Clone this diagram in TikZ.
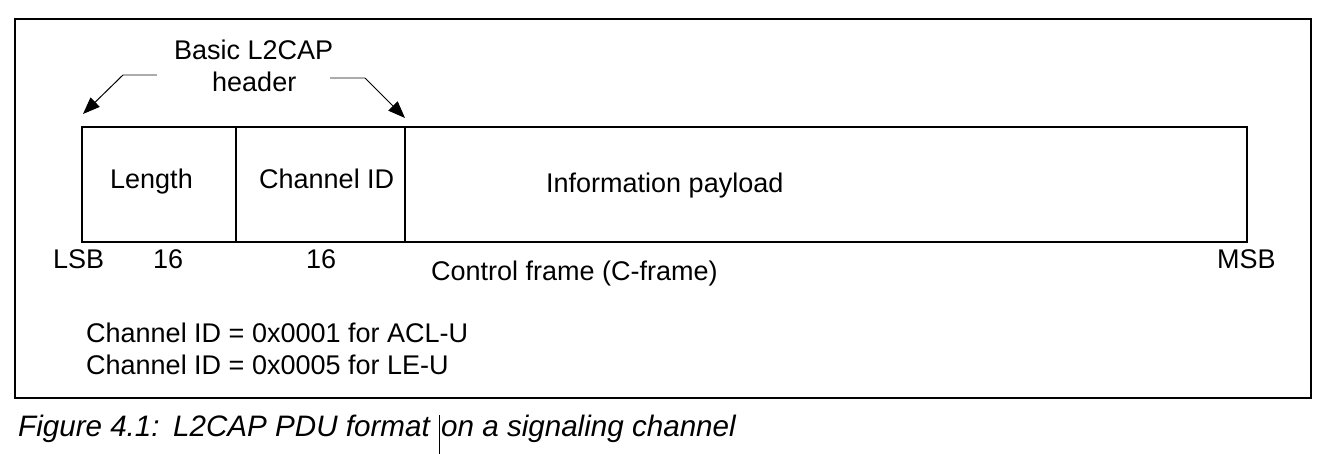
\documentclass[tikz,border=0pt]{standalone}
\usepackage{fontspec}
\setmainfont{Liberation Sans}
\usetikzlibrary{arrows.meta}
\begin{document}
\begin{tikzpicture}[x=1pt,y=-1pt,
  lbl/.style={anchor=base west,inner sep=0pt,font=\fontsize{27}{30}\selectfont},
  figcaption/.style={lbl,font=\fontsize{29.6}{32}\selectfont\itshape},
  field/.style={draw,line width=1.6pt,inner sep=0pt,minimum height=115pt},
  pointer/.style={line width=1pt,-{Triangle[length=17pt,width=13pt]}},
  leader/.style={line width=1.4pt,gray!65}]
\useasboundingbox[fill=white] (0,0) rectangle (1328,454);

% outer frame
\node[draw,line width=1.4pt,inner sep=0pt,minimum width=1296pt,minimum height=379pt] (frame) at (663,208.5) {};

% PDU fields
\node[field,minimum width=154pt] (len) at (159,184.5) {};
\node[field,minimum width=169pt] (cid) at (320.5,184.5) {};
\node[field,minimum width=842pt] (pay) at (826,184.5) {};

\node[lbl] (tlen) at (110,189) {Length};
\node[lbl] (tcid) at (259,189) {Channel ID};
\node[lbl] (tpay) at (546,193) {Information payload};

% header annotation
\node[lbl] (hdr1) at (174,60) {Basic L2CAP};
\node[lbl] (hdr2) at (212,92) {header};
\coordinate (lstart) at (157,75);
\coordinate (lknee) at (123,75);
\coordinate (ltip) at (83,114);
\coordinate (rstart) at (330,78);
\coordinate (rknee) at (365,78);
\coordinate (rtip) at (405,118);
\draw[leader] (lstart) -- (lknee);
\draw[pointer] (lknee) -- (ltip);
\draw[leader] (rstart) -- (rknee);
\draw[pointer] (rknee) -- (rtip);

% bit labels
\node[lbl] (lsb) at (53,269) {LSB};
\node[lbl] (w1) at (153,269) {16};
\node[lbl] (w2) at (306,269) {16};
\node[lbl] (ctl) at (431,281) {Control frame (C-frame)};
\node[lbl] (msb) at (1217,269) {MSB};

% channel notes
\node[lbl] (n1) at (86,342) {Channel ID = 0x0001 for ACL-U};
\node[lbl] (n2) at (86,374) {Channel ID = 0x0005 for LE-U};

% caption
\node[figcaption] (fignum) at (18,436) {Figure 4.1:};
\node[figcaption] (figtitle) at (173,436) {L2CAP PDU format};
\node[figcaption] (figrest) at (441,436) {on a signaling channel};
\coordinate (cur1) at (439,415);
\coordinate (cur2) at (439,454);
\draw[line width=1pt] (cur1) -- (cur2);
\end{tikzpicture}
\end{document}
